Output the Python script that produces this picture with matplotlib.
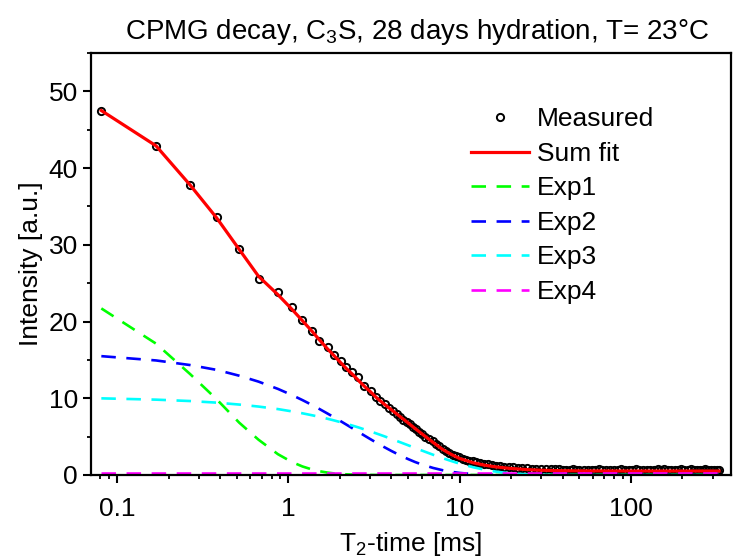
import matplotlib
matplotlib.use('Agg')
import matplotlib.pyplot as plt
from matplotlib.ticker import LogLocator, MultipleLocator, NullFormatter, FuncFormatter

plt.rcParams['font.family'] = ['Liberation Sans', 'DejaVu Sans']
plt.rcParams['mathtext.fontset'] = 'custom'
plt.rcParams['mathtext.rm'] = 'Liberation Sans'
plt.rcParams['mathtext.it'] = 'Liberation Sans:italic'
plt.rcParams['mathtext.default'] = 'regular'

# measured CPMG echo amplitudes
t_meas = [0.081, 0.169, 0.267, 0.382, 0.517, 0.67, 0.87, 1.05, 1.21, 1.38,
          1.52, 1.70, 1.86, 2.03, 2.17, 2.37, 2.54, 2.78, 3.04, 3.25,
          3.45, 3.65, 3.89, 4.1, 4.3, 4.5, 4.7, 4.9, 5.1, 5.33,
          5.55, 5.8, 6.06, 6.3, 6.6, 6.95, 7.3, 7.6, 8.0, 8.33,
          8.7, 9.1, 9.5, 9.95, 10.4, 10.9, 11.4, 11.9, 12.5, 13.1,
          13.8, 14.6, 15.4, 16.3, 17.2, 18.2, 19.3, 20.5, 21.8, 23.2,
          24.7, 26.3, 28, 30, 32, 34, 36, 38, 40, 42,
          44, 46, 48, 50, 53, 56, 59, 62, 65, 68,
          72, 76, 80, 84, 88, 92, 97, 102, 107, 112,
          118, 124, 130, 136, 143, 150, 157, 164, 172, 180,
          188, 196, 205, 214, 223, 232, 242, 252, 262, 272,
          283, 294, 305, 316, 327]
i_meas = [47.5, 42.9, 37.8, 33.6, 29.4, 25.6, 23.8, 21.9, 20.2, 18.8,
          17.5, 16.7, 15.6, 14.8, 14.1, 13.4, 12.8, 11.6, 10.9, 10.2,
          9.7, 9.2, 8.7, 8.3, 7.9, 7.6, 7.2, 6.9, 6.6, 6.3,
          6.0, 5.6, 5.3, 5.0, 4.7, 4.4, 4.0, 3.75, 3.4, 3.15,
          2.9, 2.65, 2.45, 2.3, 2.15, 2.0, 1.88, 1.78, 1.68, 1.58,
          1.45, 1.38, 1.3, 1.22, 1.15, 1.08, 1.02, 0.98, 0.93, 0.9,
          0.86, 0.82, 0.8, 0.78, 0.75, 0.76, 0.72, 0.73, 0.7, 0.71,
          0.69, 0.72, 0.68, 0.7, 0.69, 0.71, 0.67, 0.7, 0.72, 0.68,
          0.7, 0.66, 0.71, 0.69, 0.72, 0.67, 0.7, 0.68, 0.73, 0.69,
          0.66, 0.71, 0.7, 0.68, 0.72, 0.69, 0.74, 0.7, 0.67, 0.71,
          0.69, 0.73, 0.7, 0.68, 0.72, 0.7, 0.67, 0.71, 0.69, 0.72,
          0.7, 0.68, 0.71, 0.69, 0.7]

# fit curves, sampled at these times
t_fit = [0.081, 0.169, 0.267, 0.382, 0.517, 0.67, 0.87, 1.05, 1.21, 1.38,
         1.52, 1.7, 1.86, 2.03, 2.2, 2.4, 2.6, 2.8, 3.0, 3.3,
         3.6, 4.0, 4.5, 5.0, 5.5, 6.0, 7.0, 8.0, 9.0, 10,
         12, 14, 16, 18, 20, 25, 30, 40, 50, 70,
         100, 150, 200, 250, 327]
sum_fit = [47.5, 42.9, 37.8, 33.5, 29.4, 25.9, 23.5, 21.6, 20.1, 18.7,
           17.6, 16.4, 15.5, 14.6, 13.8, 13.0, 12.2, 11.5, 10.9, 10.0,
           9.3, 8.5, 7.6, 6.8, 6.05, 5.4, 4.25, 3.3, 2.65, 2.15,
           1.6, 1.28, 1.08, 0.95, 0.85, 0.7, 0.62, 0.56, 0.54, 0.53,
           0.52, 0.52, 0.52, 0.52, 0.52]
exp1 = [21.71, 17.12, 13.16, 9.86, 6.82, 4.60, 2.71, 1.69, 1.11, 0.71,
        0.49, 0.31, 0.20, 0.13, 0.08, 0.05, 0.03, 0.02, 0.01, 0.0,
        0.0, 0.0, 0.0, 0.0, 0.0, 0.0, 0.0, 0.0, 0.0, 0.0,
        0.0, 0.0, 0.0, 0.0, 0.0, 0.0, 0.0, 0.0, 0.0, 0.0,
        0.0, 0.0, 0.0, 0.0, 0.0]
exp2 = [15.49, 14.93, 14.33, 13.70, 12.94, 12.17, 11.22, 10.42, 9.76, 9.11,
        8.60, 7.99, 7.49, 6.99, 6.52, 6.01, 5.54, 5.10, 4.70, 4.16,
        3.68, 3.13, 2.55, 2.08, 1.69, 1.38, 0.92, 0.61, 0.41, 0.27,
        0.12, 0.05, 0.02, 0.01, 0.0, 0.0, 0.0, 0.0, 0.0, 0.0,
        0.0, 0.0, 0.0, 0.0, 0.0]
exp3 = [9.99, 9.82, 9.64, 9.43, 9.18, 8.92, 8.59, 8.29, 8.04, 7.78,
        7.58, 7.32, 7.10, 6.87, 6.65, 6.40, 6.16, 5.92, 5.70, 5.38,
        5.08, 4.70, 4.27, 3.88, 3.52, 3.20, 2.64, 2.18, 1.80, 1.48,
        1.01, 0.69, 0.47, 0.32, 0.22, 0.08, 0.03, 0.01, 0.0, 0.0,
        0.0, 0.0, 0.0, 0.0, 0.0]
exp4 = [0.2, 0.2, 0.2, 0.2, 0.2, 0.2, 0.2, 0.2, 0.2, 0.2,
        0.2, 0.2, 0.2, 0.2, 0.2, 0.2, 0.2, 0.2, 0.2, 0.2,
        0.2, 0.2, 0.2, 0.2, 0.2, 0.2, 0.2, 0.2, 0.2, 0.2,
        0.2, 0.2, 0.2, 0.2, 0.2, 0.2, 0.2, 0.2, 0.2, 0.2,
        0.2, 0.2, 0.2, 0.2, 0.2]

fig = plt.figure(figsize=(7.36, 5.59), dpi=100)
ax = fig.add_axes([91/736, 1-475/559, (731-91)/736, (475-53)/559])

fs = 19
dash = (5.5, 4)

ax.plot(t_meas, i_meas, ls='', marker='o', ms=5.2, mfc='none', mec='k', mew=1.4, label='Measured')
ax.plot(t_fit, sum_fit, c='#ff0000', lw=2.3, label='Sum fit')
ax.plot(t_fit, exp1, c='#00ff00', lw=1.9, dashes=dash, label='Exp1')
ax.plot(t_fit, exp2, c='#0000ff', lw=1.9, dashes=dash, label='Exp2')
ax.plot(t_fit, exp3, c='#00ffff', lw=1.9, dashes=dash, label='Exp3')
ax.plot(t_fit, exp4, c='#ff00ff', lw=1.9, dashes=dash, label='Exp4')

ax.set_xscale('log')
ax.set_xlim(0.0705, 384)
ax.set_ylim(0, 55)

ax.xaxis.set_major_locator(LogLocator(base=10, numticks=10))
ax.xaxis.set_minor_locator(LogLocator(base=10, subs=range(2, 10), numticks=20))
ax.xaxis.set_minor_formatter(NullFormatter())
ax.xaxis.set_major_formatter(FuncFormatter(lambda v, p: '{:g}'.format(v)))
ax.yaxis.set_major_locator(MultipleLocator(10))
ax.yaxis.set_minor_locator(MultipleLocator(5))

for s in ax.spines.values():
    s.set_linewidth(1.6)
ax.tick_params(which='major', direction='out', length=5.5, width=1.5, labelsize=fs)
ax.tick_params(axis='x', which='major', pad=10)
ax.tick_params(axis='y', which='major', pad=4)
ax.tick_params(which='minor', direction='out', length=3, width=1.3)
ax.tick_params(top=False, right=False, which='both')

ax.set_xlabel('T$_2$-time [ms]', fontsize=fs, labelpad=7)
ax.set_ylabel('Intensity [a.u.]', fontsize=fs, labelpad=4)
ax.set_title('CPMG decay, C$_3$S, 28 days hydration, T= 23°C', fontsize=20, pad=10, x=0.51)

leg = ax.legend(loc='upper left', bbox_to_anchor=(0.585, 0.884), frameon=False, fontsize=fs,
                handlelength=2.2, handletextpad=0.3, labelspacing=0.4, numpoints=1,
                borderaxespad=0, borderpad=0.2)

fig.savefig('out.png', dpi=100)
